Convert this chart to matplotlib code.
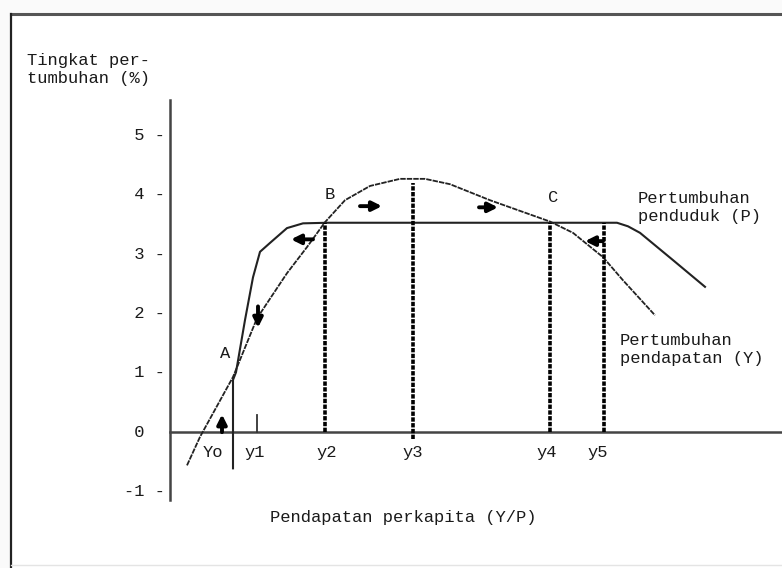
import matplotlib
matplotlib.use("Agg")
import matplotlib.pyplot as plt
from matplotlib.lines import Line2D

plt.rcParams['font.family'] = ['Liberation Mono', 'DejaVu Sans Mono']

# population growth curve (P)
p_x = [1.26, 1.26, 1.32, 1.5, 1.66, 1.8, 2.0, 2.34, 2.66, 3.14, 8.94, 9.16, 9.4, 10.06, 10.7]
p_y = [-0.61, 0.88, 1.01, 1.89, 2.61, 3.04, 3.19, 3.44, 3.52, 3.53, 3.53, 3.47, 3.36, 2.9, 2.45]

# income growth curve (Y)
y_x = [0.34, 0.6, 1.26, 1.74, 2.34, 2.74, 3.1, 3.5, 4.0, 4.6, 5.1, 5.6, 6.4, 7.0, 7.6, 8.06, 8.66, 9.06, 9.7]
y_y = [-0.56, -0.08, 0.93, 1.92, 2.68, 3.12, 3.54, 3.91, 4.15, 4.27, 4.27, 4.18, 3.91, 3.73, 3.55, 3.36, 2.95, 2.56, 1.97]

# dashed guides y2..y5
guide_x = [3.1, 4.86, 7.6, 8.68]
guide_lo = [0, -0.12, 0, 0]
guide_hi = [3.53, 4.2, 3.53, 3.53]

x_labels = ['Yo', 'y1', 'y2', 'y3', 'y4', 'y5']
x_label_pos = [0.86, 1.7, 3.14, 4.86, 7.54, 8.56]

y_ticks = [5, 4, 3, 2, 1, 0, -1]

# arrows: (tail x, tail y, head x, head y)
arrows = [
    (1.04, 0.0, 1.04, 0.30),
    (1.76, 2.12, 1.76, 1.76),
    (2.86, 3.25, 2.42, 3.25),
    (3.8, 3.81, 4.24, 3.81),
    (6.18, 3.79, 6.56, 3.79),
    (8.66, 3.22, 8.3, 3.22),
]

points = ['A', 'B', 'C']
point_x = [1.1, 3.2, 7.66]
point_y = [1.33, 4.0, 3.96]

fig = plt.figure(figsize=(7.82, 5.68), dpi=100)
fig.patch.set_facecolor('#fafafa')
ax = fig.add_axes([0, 0, 1, 1])
ax.set_xlim(-3.4, 12.24)
ax.set_ylim(-2.29, 7.285)
ax.axis('off')

# white panel with frame
fig.add_artist(plt.Rectangle((11/782, 0), 1, 1 - 14/568, transform=fig.transFigure,
                             facecolor='white', edgecolor='none', zorder=0))
fig.add_artist(Line2D([11/782, 1], [1 - 14/568] * 2, transform=fig.transFigure, color='#555555', lw=2.2))
fig.add_artist(Line2D([11/782] * 2, [0, 1 - 14/568], transform=fig.transFigure, color='#222222', lw=1.6))
fig.add_artist(Line2D([11/782, 1], [3/568] * 2, transform=fig.transFigure, color='#e4e4e4', lw=1))

fs = 12.3
tc = '#1a1a1a'

# axes
ax.plot([0, 0], [-1.15, 5.6], color='#444444', lw=1.8)
ax.plot([0, 12.3], [0, 0], color='#444444', lw=1.8)

for t in y_ticks:
    lab = '%2d' % t if t == 0 else '%2d -' % t
    ax.text(-0.92, t, lab, ha='left', va='center', fontsize=fs, color=tc)

for lab, xp in zip(x_labels, x_label_pos):
    ax.text(xp, -0.35, lab, ha='center', va='center', fontsize=fs, color=tc)

# curves
ax.plot(p_x, p_y, color='#222222', lw=1.5)
ax.plot(y_x, y_y, color='#222222', lw=1.3, linestyle=(0, (3.0, 0.6)))

# y1 tick
ax.plot([1.74, 1.74], [0, 0.29], color='#333333', lw=1.3)

for gx, lo, hi in zip(guide_x, guide_lo, guide_hi):
    ax.plot([gx, gx], [lo, hi], color='black', lw=2.6, linestyle=(0, (1.2, 0.4)))

for x0, y0, x1, y1 in arrows:
    ax.annotate('', xy=(x1, y1), xytext=(x0, y0),
                arrowprops=dict(arrowstyle='-|>', color='black', lw=2.8, mutation_scale=14,
                                shrinkA=0, shrinkB=0))

for lab, px, py in zip(points, point_x, point_y):
    ax.text(px, py, lab, ha='center', va='center', fontsize=fs, color=tc)

ax.text(9.36, 3.79, 'Pertumbuhan\npenduduk (P)', ha='left', va='center', fontsize=fs,
        linespacing=1.25, color=tc)
ax.text(9.0, 1.40, 'Pertumbuhan\npendapatan (Y)', ha='left', va='center', fontsize=fs,
        linespacing=1.25, color=tc)
ax.text(-2.86, 6.12, 'Tingkat per-\ntumbuhan (%)', ha='left', va='center', fontsize=fs,
        linespacing=1.25, color=tc)
ax.text(4.66, -1.44, 'Pendapatan perkapita (Y/P)', ha='center', va='center', fontsize=fs,
        color=tc)

fig.savefig('out.png', dpi=100, facecolor=fig.get_facecolor())
